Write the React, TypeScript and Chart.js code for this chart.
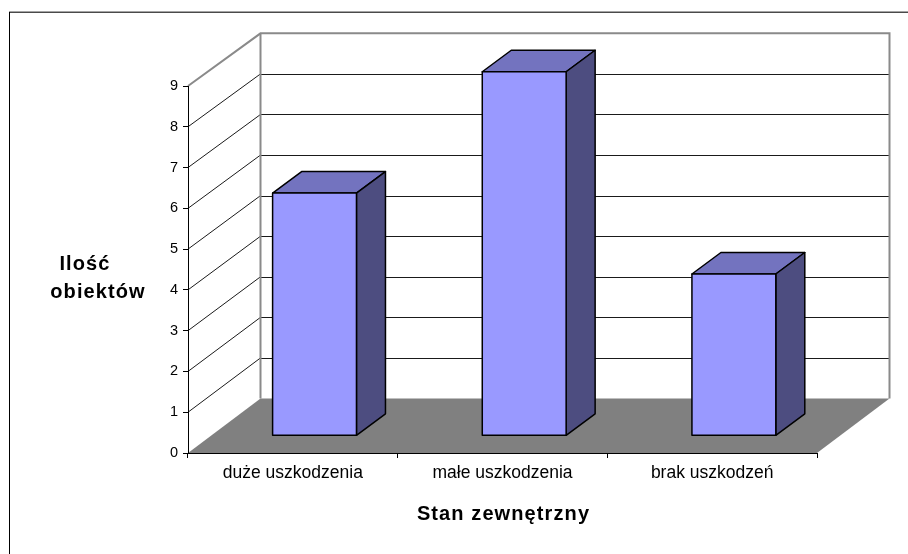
import React, { useEffect, useRef } from 'react';
import { Chart, registerables } from 'chart.js';

Chart.register(...registerables);

// Data
const categories = ['duże uszkodzenia', 'małe uszkodzenia', 'brak uszkodzeń'];
const objectCounts = [6, 9, 4];
const yTicks = [0, 1, 2, 3, 4, 5, 6, 7, 8, 9];
const yTitleLines = ['Ilość', 'obiektów'];
const xTitle = 'Stan zewnętrzny';

const FONT = '"Liberation Sans", Arial, Helvetica, sans-serif';

// 3D look: depth of the walls and of the bars
const WALL_DX = 72.5;
const WALL_DY = -54.5;
const BACK_SCALE = 0.995;
const BAR_FRONT_DX = 21.7;
const BAR_FRONT_DY = -17.7;
const BAR_DX = 29;
const BAR_DY = -21.5;
const BAR_SCALE = 0.992;

const COLORS = {
  front: '#9999ff',
  top: '#7373bf',
  side: '#4d4d80',
  floor: '#808080',
  wallEdge: '#8a8a8a',
  grid: '#1a1a1a',
  outline: '#000000',
};

const box3d = {
  id: 'box3d',
  beforeDraw(chart: any) {
    const { ctx, chartArea, scales } = chart;
    const ys = scales.y;
    const left = chartArea.left;
    const right = chartArea.right;
    const y0 = ys.getPixelForValue(yTicks[0]);
    const back = (v: number) => y0 + WALL_DY - (y0 - ys.getPixelForValue(v)) * BACK_SCALE;
    const vMax = yTicks[yTicks.length - 1];

    ctx.save();
    // outer frame of the chart object
    ctx.strokeStyle = '#4a4a4a';
    ctx.lineWidth = 1.5;
    ctx.beginPath();
    ctx.moveTo(9, 12.25);
    ctx.lineTo(chart.width, 12.25);
    ctx.stroke();
    ctx.strokeStyle = '#000';
    ctx.lineWidth = 1;
    ctx.beginPath();
    ctx.moveTo(9.5, 12);
    ctx.lineTo(9.5, chart.height);
    ctx.stroke();

    // floor
    ctx.fillStyle = COLORS.floor;
    ctx.beginPath();
    ctx.moveTo(left, y0);
    ctx.lineTo(left + WALL_DX, back(0));
    ctx.lineTo(right + WALL_DX, back(0));
    ctx.lineTo(right, y0);
    ctx.closePath();
    ctx.fill();

    // gridlines on back wall and side wall
    ctx.lineWidth = 1;
    ctx.strokeStyle = COLORS.grid;
    yTicks.forEach((v) => {
      if (v === yTicks[0] || v === vMax) return;
      const yf = ys.getPixelForValue(v);
      const yb = Math.round(back(v)) + 0.5;
      ctx.beginPath();
      ctx.moveTo(left + WALL_DX, yb);
      ctx.lineTo(right + WALL_DX, yb);
      ctx.stroke();
      ctx.beginPath();
      ctx.moveTo(left, yf);
      ctx.lineTo(left + WALL_DX, back(v));
      ctx.stroke();
    });

    // wall edges
    ctx.strokeStyle = COLORS.wallEdge;
    ctx.lineWidth = 2;
    const yTop = back(vMax);
    ctx.beginPath();
    ctx.moveTo(left, ys.getPixelForValue(vMax));
    ctx.lineTo(left + WALL_DX, yTop);
    ctx.lineTo(right + WALL_DX, yTop);
    ctx.lineTo(right + WALL_DX, back(0));
    ctx.stroke();
    ctx.beginPath();
    ctx.moveTo(left + WALL_DX, yTop);
    ctx.lineTo(left + WALL_DX, back(0));
    ctx.stroke();
    ctx.restore();
  },
  afterDatasetsDraw(chart: any) {
    const { ctx, scales } = chart;
    const ys = scales.y;
    const y0 = ys.getPixelForValue(yTicks[0]);
    const meta = chart.getDatasetMeta(0);
    ctx.save();
    ctx.lineJoin = 'round';
    ctx.lineWidth = 1.5;
    ctx.strokeStyle = COLORS.outline;
    meta.data.forEach((el: any) => {
      const p = el.getProps(['x', 'y', 'base', 'width'], true);
      const L = p.x - p.width / 2 + BAR_FRONT_DX;
      const R = p.x + p.width / 2 + BAR_FRONT_DX;
      const B = y0 + BAR_FRONT_DY;
      const T = B - (p.base - p.y) * BAR_SCALE;
      // top face
      ctx.fillStyle = COLORS.top;
      ctx.beginPath();
      ctx.moveTo(L, T);
      ctx.lineTo(L + BAR_DX, T + BAR_DY);
      ctx.lineTo(R + BAR_DX, T + BAR_DY);
      ctx.lineTo(R, T);
      ctx.closePath();
      ctx.fill();
      ctx.stroke();
      // side face
      ctx.fillStyle = COLORS.side;
      ctx.beginPath();
      ctx.moveTo(R, T);
      ctx.lineTo(R + BAR_DX, T + BAR_DY);
      ctx.lineTo(R + BAR_DX, B + BAR_DY);
      ctx.lineTo(R, B);
      ctx.closePath();
      ctx.fill();
      ctx.stroke();
      // front face
      ctx.fillStyle = COLORS.front;
      ctx.beginPath();
      ctx.rect(L, T, R - L, B - T);
      ctx.fill();
      ctx.stroke();
    });
    ctx.restore();
  },
  afterDraw(chart: any) {
    const { ctx, chartArea } = chart;
    ctx.save();
    ctx.fillStyle = '#000';
    ctx.font = `bold 20px ${FONT}`;
    ctx.textAlign = 'center';
    ctx.textBaseline = 'alphabetic';
    (ctx as any).letterSpacing = '1.1px';
    const mid = (chartArea.top + chartArea.bottom) / 2;
    // the two title lines sit slightly staggered
    const lineShift = [-13, 0];
    yTitleLines.forEach((line, i) => {
      ctx.fillText(line, chartArea.left - 90 + lineShift[i], mid + 0.5 + i * 28);
    });
    ctx.fillText(xTitle, (chartArea.left + chartArea.right) / 2 + 1, chartArea.bottom + 67);
    ctx.restore();
  },
};

export default function App() {
  const ref = useRef<HTMLCanvasElement>(null);

  useEffect(() => {
    if (!ref.current) return;
    const chart = new Chart(ref.current, {
      type: 'bar',
      data: {
        labels: categories,
        datasets: [
          {
            data: objectCounts,
            backgroundColor: 'rgba(0,0,0,0)',
            borderWidth: 0,
            barPercentage: 0.4,
            categoryPercentage: 1,
          },
        ],
      },
      options: {
        responsive: false,
        animation: false,
        devicePixelRatio: 1,
        layout: { padding: { left: 0, right: 91, top: 86, bottom: 0 } },
        plugins: {
          legend: { display: false },
          tooltip: { enabled: false },
          title: { display: false },
        },
        scales: {
          x: {
            grid: {
              display: true,
              drawOnChartArea: false,
              drawTicks: true,
              tickLength: 5,
              color: '#000',
              offset: true,
            },
            border: { display: true, color: '#000', width: 1 },
            ticks: {
              color: '#000',
              font: { family: FONT, size: 17.5 },
              padding: 5,
              maxRotation: 0,
              autoSkip: false,
            },
            afterFit: (s: any) => {
              s.height = 101;
            },
          },
          y: {
            min: yTicks[0],
            max: yTicks[yTicks.length - 1],
            grid: {
              display: true,
              drawOnChartArea: false,
              drawTicks: true,
              tickLength: 5,
              color: '#000',
            },
            border: { display: true, color: '#000', width: 1 },
            ticks: {
              stepSize: 1,
              color: '#000',
              font: { family: FONT, size: 14.5 },
              padding: 5,
            },
            afterFit: (s: any) => {
              s.width = 188;
            },
          },
        },
      },
      plugins: [box3d],
    });
    return () => chart.destroy();
  }, []);

  return (
    <div style={{ position: 'fixed', left: 0, top: 0, width: 908, height: 554, background: '#fff' }}>
      <canvas ref={ref} width={908} height={554} style={{ display: 'block' }} />
    </div>
  );
}
